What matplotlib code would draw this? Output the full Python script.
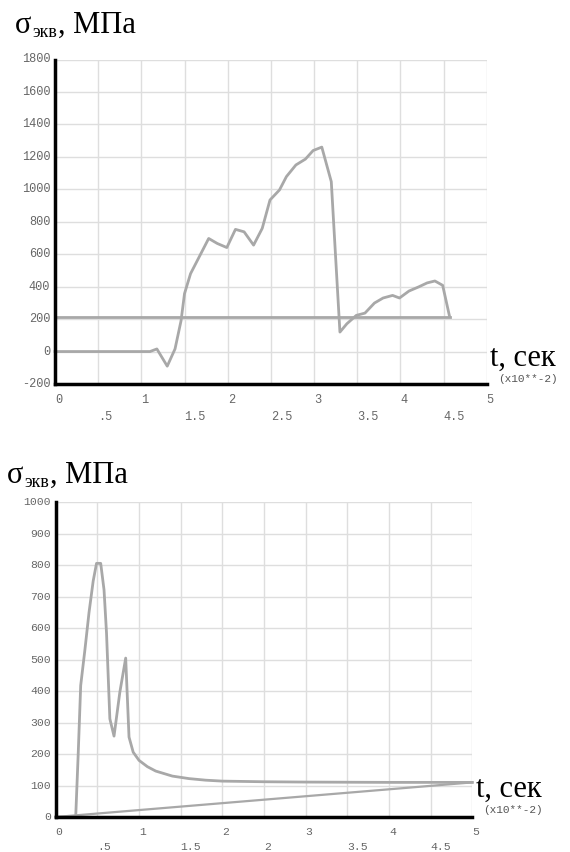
import matplotlib
matplotlib.use('Agg')
import matplotlib.pyplot as plt

# top chart: equivalent stress vs time
t_top = [0, 1.10, 1.18, 1.30, 1.39, 1.46, 1.50, 1.57, 1.66, 1.78, 1.88, 1.99, 2.09, 2.19,
         2.30, 2.40, 2.49, 2.60, 2.68, 2.79, 2.90, 2.99, 3.09, 3.20, 3.30, 3.38, 3.49, 3.59,
         3.70, 3.80, 3.91, 3.99, 4.10, 4.21, 4.31, 4.40, 4.49, 4.57]
s_top = [0, 0, 16, -90, 16, 190, 357, 480, 573, 697, 666, 641, 753, 738,
         656, 759, 934, 996, 1078, 1150, 1186, 1239, 1260, 1047, 120, 171, 223, 237,
         299, 330, 346, 330, 373, 398, 423, 435, 408, 216]
t_top_line = [0, 4.57]
s_top_line = [216, 216]

# bottom chart
t_bot = [0, 0.24, 0.27, 0.30, 0.35, 0.40, 0.45, 0.49, 0.54, 0.58, 0.61, 0.65, 0.70,
         0.77, 0.84, 0.88, 0.93, 1.0, 1.1, 1.2, 1.4, 1.6, 1.8, 2.0, 2.5, 3.0, 4.0, 5.0]
s_bot = [0, 0, 200, 418, 530, 650, 750, 806, 806, 722, 584, 312, 257,
         397, 505, 254, 206, 180, 160, 146, 130, 122, 117, 114, 112, 111, 110, 110]
t_bot_line = [0, 5]
s_bot_line = [0, 110]

x_major = [0, 1, 2, 3, 4, 5]
x_minor = [0.5, 1.5, 2.5, 3.5, 4.5]
x_major_lab = ['0', '1', '2', '3', '4', '5']
x_minor_lab_top = ['.5', '1.5', '2.5', '3.5', '4.5']
x_minor_lab_bot = ['.5', '1.5', '2', '3.5', '4.5']
y_top_ticks = [-200, 0, 200, 400, 600, 800, 1000, 1200, 1400, 1600, 1800]
y_bot_ticks = [0, 100, 200, 300, 400, 500, 600, 700, 800, 900, 1000]

W, H = 570, 852
fig = plt.figure(figsize=(W / 100, H / 100), dpi=100)

line_col = '#a8a8a8'
grid_col = '#dedede'
lab_col = '#666666'
serif = 'Liberation Serif'
mono = 'Liberation Mono'


def setup(ax, yticks, minor_labels, ylim, fs, pad1, pad2):
    ax.set_xlim(0, 5)
    ax.set_ylim(*ylim)
    ax.set_xticks(x_major, x_major_lab)
    ax.set_xticks(x_minor, minor_labels, minor=True)
    ax.set_yticks(yticks, [str(v) for v in yticks])
    ax.grid(True, which='both', color=grid_col, lw=1)
    ax.set_axisbelow(True)
    for s in ['top', 'right']:
        ax.spines[s].set_visible(False)
    for s in ['left', 'bottom']:
        ax.spines[s].set_linewidth(2.5)
        ax.spines[s].set_zorder(5)
    ax.tick_params(axis='x', which='major', length=0, pad=pad1, labelsize=fs, labelcolor=lab_col)
    ax.tick_params(axis='x', which='minor', length=0, pad=pad2, labelsize=fs, labelcolor=lab_col)
    ax.tick_params(axis='y', length=0, pad=3.5, labelsize=fs, labelcolor=lab_col)
    for lab in ax.get_xticklabels() + ax.get_xticklabels(minor=True) + ax.get_yticklabels():
        lab.set_family(mono)
    for lab in ax.get_xticklabels() + ax.get_xticklabels(minor=True):
        lab.set_ha('left')
    for lab in ax.get_yticklabels():
        lab.set_va('center')
    ax.patch.set_alpha(0)


def ylabel(ax, x, y):
    t1 = fig.text(x / W, 1 - y / H, 'σ', size=22, family=serif, va='baseline')
    t2 = ax.annotate('экв', xy=(1, 0), xycoords=t1, xytext=(0.5, -0.5), textcoords='offset points',
                     size=13, family=serif, ha='left', va='bottom', annotation_clip=False)
    ax.annotate(', МПа', xy=(1, 0), xycoords=(t2, t1), xytext=(0.5, 0), textcoords='offset points',
                size=22, family=serif, ha='left', va='bottom', annotation_clip=False)


def xlabel(x, y, x2, y2):
    fig.text(x / W, 1 - y / H, 't, сек', size=22, family=serif, va='baseline')
    fig.text(x2 / W, 1 - y2 / H, '(x10**-2)', size=8, family=mono, color='#555555', va='top')


# top
ax1 = fig.add_axes([55 / W, 1 - 384 / H, (486.7 - 55) / W, (384 - 59.5) / H])
setup(ax1, y_top_ticks, x_minor_lab_top, (-200, 1800), 8.6, 7.0, 19.5)
ax1.plot(t_top, s_top, color=line_col, lw=2, clip_on=False)
ax1.plot(t_top_line, s_top_line, color=line_col, lw=2, clip_on=False)
ylabel(ax1, 15, 33)
xlabel(490, 366, 498, 373.5)

# bottom
ax2 = fig.add_axes([55.7 / W, 1 - 817 / H, (472.3 - 55.7) / W, (817 - 502.3) / H])
setup(ax2, y_bot_ticks, x_minor_lab_bot, (0, 1000), 8.2, 7.0, 18.0)
ax2.plot(t_bot, s_bot, color=line_col, lw=2, clip_on=False)
ax2.plot(t_bot_line, s_bot_line, color=line_col, lw=1.6, clip_on=False)
ylabel(ax2, 7, 483)
xlabel(476, 797, 483, 805)

fig.savefig('out.png', dpi=100)
